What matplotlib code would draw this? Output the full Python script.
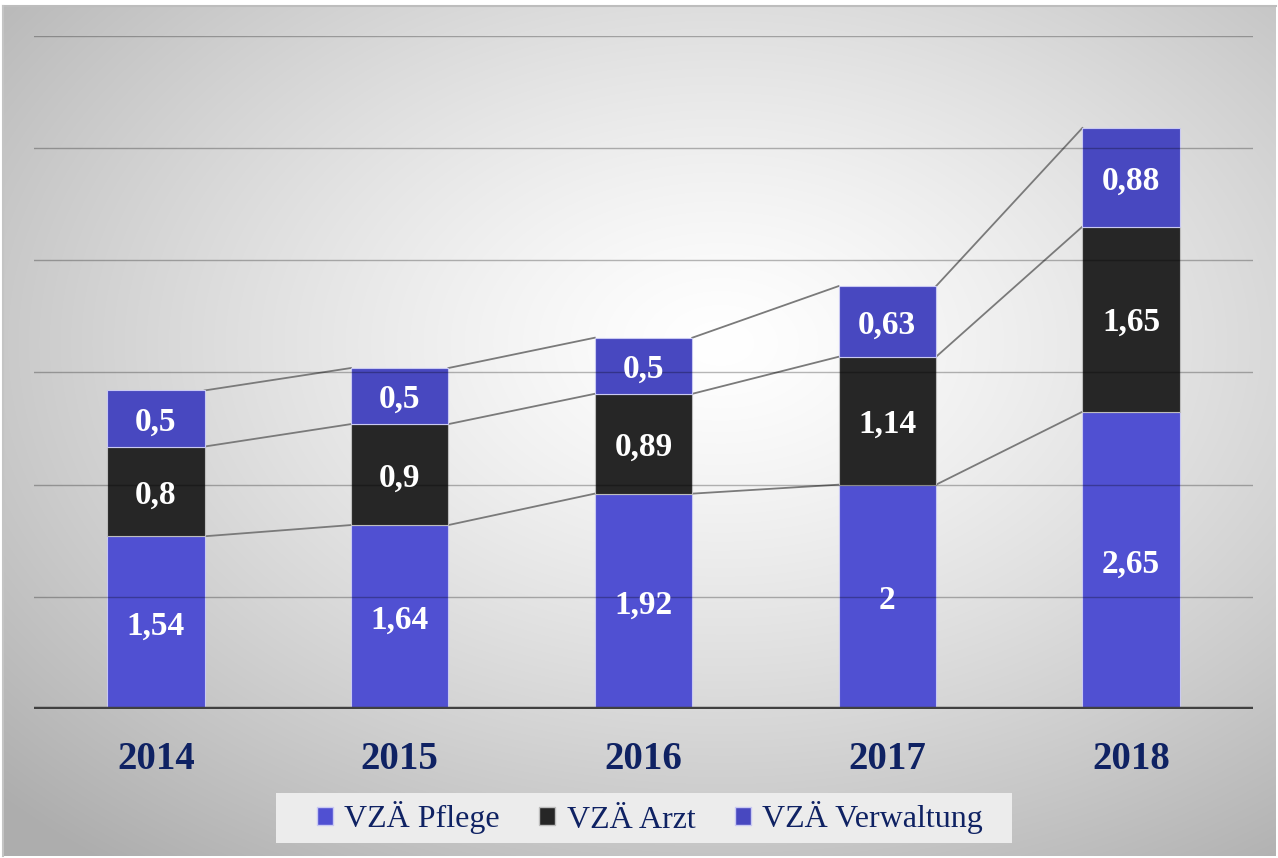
import matplotlib
matplotlib.use("Agg")
import matplotlib.pyplot as plt
from matplotlib.patches import Patch, Rectangle
import numpy as np

years = ["2014", "2015", "2016", "2017", "2018"]
pflege = [1.54, 1.64, 1.92, 2.0, 2.65]
arzt = [0.8, 0.9, 0.89, 1.14, 1.65]
verwaltung = [0.5, 0.5, 0.5, 0.63, 0.88]
series_names = ["VZÄ Pflege", "VZÄ Arzt", "VZÄ Verwaltung"]

c_pflege = "#5050d2"
c_arzt = "#262626"
c_verw = "#4848c0"
navy = "#0f2263"

plt.rcParams["font.family"] = ["Liberation Serif", "DejaVu Serif"]

W, H = 1278, 858
fig = plt.figure(figsize=(W / 100, H / 100), dpi=100)
fig.patch.set_facecolor("white")

# radial gradient background
bg = fig.add_axes([0, 0, 1, 1], zorder=0)
yy, xx = np.mgrid[0:H, 0:W]
d = np.hypot((xx - 720) / W, (yy - 340) / H)
g = 1.0 - 0.32 * np.clip(d / 0.78, 0, 1) ** 1.3
img = np.dstack([g, g, g])
bg.imshow(img, extent=[3, W - 2, H - 2, 6], aspect="auto", interpolation="bilinear")
bg.plot([3, W - 2], [6, 6], color="#bdbdbd", lw=1.5)
bg.plot([3, 3], [6, H - 2], color="#c4c4c4", lw=1.5)
# legend box
bg.add_patch(Rectangle((276, 793), 736, 50, facecolor="#ececec", edgecolor="none", zorder=3))
bg.set_xlim(0, W)
bg.set_ylim(H, 0)
bg.axis("off")

ax = fig.add_axes([34 / W, (H - 709) / H, 1219 / W, 673 / H], zorder=1)
ax.patch.set_alpha(0)

x = np.arange(len(years))
p = np.array(pflege)
a = np.array(arzt)
v = np.array(verwaltung)
bw = 0.4

ax.bar(x, p, bw, color=c_pflege, edgecolor="#c9c9f2", lw=0.8, zorder=2)
ax.bar(x, a, bw, bottom=p, color=c_arzt, edgecolor="#bdbdbd", lw=0.8, zorder=2)
ax.bar(x, v, bw, bottom=p + a, color=c_verw, edgecolor="#c9c9f2", lw=0.8, zorder=2)

# series lines between bars
for level in [p, p + a, p + a + v]:
    for i in range(len(x) - 1):
        ax.plot([x[i] + bw / 2, x[i + 1] - bw / 2], [level[i], level[i + 1]],
                color="#7a7a7a", lw=1.3, zorder=1)

# gridlines on top, semi transparent
for yv in range(1, 7):
    ax.axhline(yv, color="black", alpha=0.28, lw=1, zorder=3)

ax.axhline(0, color="#404040", lw=3.2, zorder=4)


def fmt(val):
    s = ("%g" % val).replace(".", ",")
    return s


for i in range(len(x)):
    for bottom, h in [(0, p[i]), (p[i], a[i]), (p[i] + a[i], v[i])]:
        ax.text(x[i], bottom + h / 2, fmt(h), ha="center", va="center_baseline",
                color="white", fontsize=24, fontweight="bold", zorder=5)
    ax.text(x[i], -0.45, years[i], ha="center", va="center", color=navy,
            fontsize=28, fontweight="bold")

ax.set_xlim(-0.5, 4.5)
ax.set_ylim(0, 6)
ax.set_xticks([])
ax.set_yticks([])
for s in ax.spines.values():
    s.set_visible(False)

handles = [Patch(facecolor=c, edgecolor="#c9c9f2" if c != c_arzt else "#bdbdbd")
           for c in [c_pflege, c_arzt, c_verw]]
leg = fig.legend(handles, series_names, loc="center", bbox_to_anchor=(650 / W, 1 - 818 / H),
                 ncol=3, frameon=False, fontsize=23, handlelength=0.5,
                 handleheight=0.5, handletextpad=0.35, columnspacing=1.25,
                 borderpad=0.3, borderaxespad=0, labelcolor=navy)
leg.set_zorder(5)

fig.savefig("out.png", dpi=100)
